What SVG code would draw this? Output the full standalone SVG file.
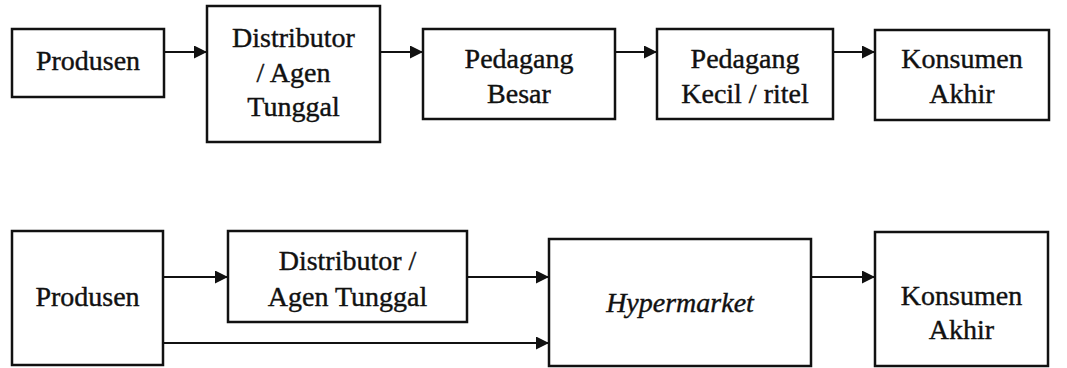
<svg xmlns="http://www.w3.org/2000/svg" width="1067" height="368" viewBox="0 0 1067 368">
<defs>
<marker id="ah" viewBox="0 0 13 13" refX="13" refY="6.5" markerWidth="13" markerHeight="13" markerUnits="userSpaceOnUse" orient="auto">
<path d="M0,0 L13,6.5 L0,13 Z" fill="#111"/>
</marker>
<style>
.box{fill:#fff;stroke:#111;stroke-width:2.5}
.t{font-family:"Liberation Serif","Times New Roman",serif;font-size:28px;fill:#111;stroke:#111;stroke-width:0.4;text-anchor:middle}
.i{font-style:italic}
.c{stroke:#111;stroke-width:2.2;fill:none;marker-end:url(#ah)}
</style>
</defs>
<rect width="1067" height="368" fill="#fff"/>
<g id="connectors">
<line class="c" x1="164" y1="52" x2="207" y2="52"/>
<line class="c" x1="380" y1="52" x2="423" y2="52"/>
<line class="c" x1="615" y1="52" x2="657" y2="52"/>
<line class="c" x1="833" y1="52" x2="875" y2="52"/>
<line class="c" x1="163" y1="277" x2="228" y2="277"/>
<line class="c" x1="467" y1="277" x2="549" y2="277"/>
<line class="c" x1="163" y1="343" x2="549" y2="343"/>
<line class="c" x1="811" y1="277" x2="875" y2="277"/>
</g>
<g id="produsen1">
<rect class="box" x="12" y="29" width="152" height="68"/>
<text class="t" x="88" y="70">Produsen</text>
</g>
<g id="distributor1">
<rect class="box" x="207" y="6" width="173" height="136"/>
<text class="t" x="293.5" y="47">Distributor</text>
<text class="t" x="293.5" y="82">/ Agen</text>
<text class="t" x="293.5" y="116">Tunggal</text>
</g>
<g id="pedagang-besar">
<rect class="box" x="423" y="29" width="192" height="90"/>
<text class="t" x="519" y="68">Pedagang</text>
<text class="t" x="519" y="103">Besar</text>
</g>
<g id="pedagang-kecil">
<rect class="box" x="657" y="29" width="176" height="90"/>
<text class="t" x="745" y="68">Pedagang</text>
<text class="t" x="745" y="103">Kecil / ritel</text>
</g>
<g id="konsumen1">
<rect class="box" x="875" y="30" width="174" height="90"/>
<text class="t" x="962" y="68">Konsumen</text>
<text class="t" x="962" y="103">Akhir</text>
</g>
<g id="produsen2">
<rect class="box" x="12" y="231" width="151" height="134"/>
<text class="t" x="87.5" y="306">Produsen</text>
</g>
<g id="distributor2">
<rect class="box" x="228" y="231" width="239" height="91"/>
<text class="t" x="347.5" y="270">Distributor /</text>
<text class="t" x="347.5" y="306">Agen Tunggal</text>
</g>
<g id="hypermarket">
<rect class="box" x="549" y="239" width="262" height="127"/>
<text class="t i" x="680" y="312">Hypermarket</text>
</g>
<g id="konsumen2">
<rect class="box" x="875" y="232" width="173" height="134"/>
<text class="t" x="961.5" y="305">Konsumen</text>
<text class="t" x="961.5" y="339">Akhir</text>
</g>
</svg>
